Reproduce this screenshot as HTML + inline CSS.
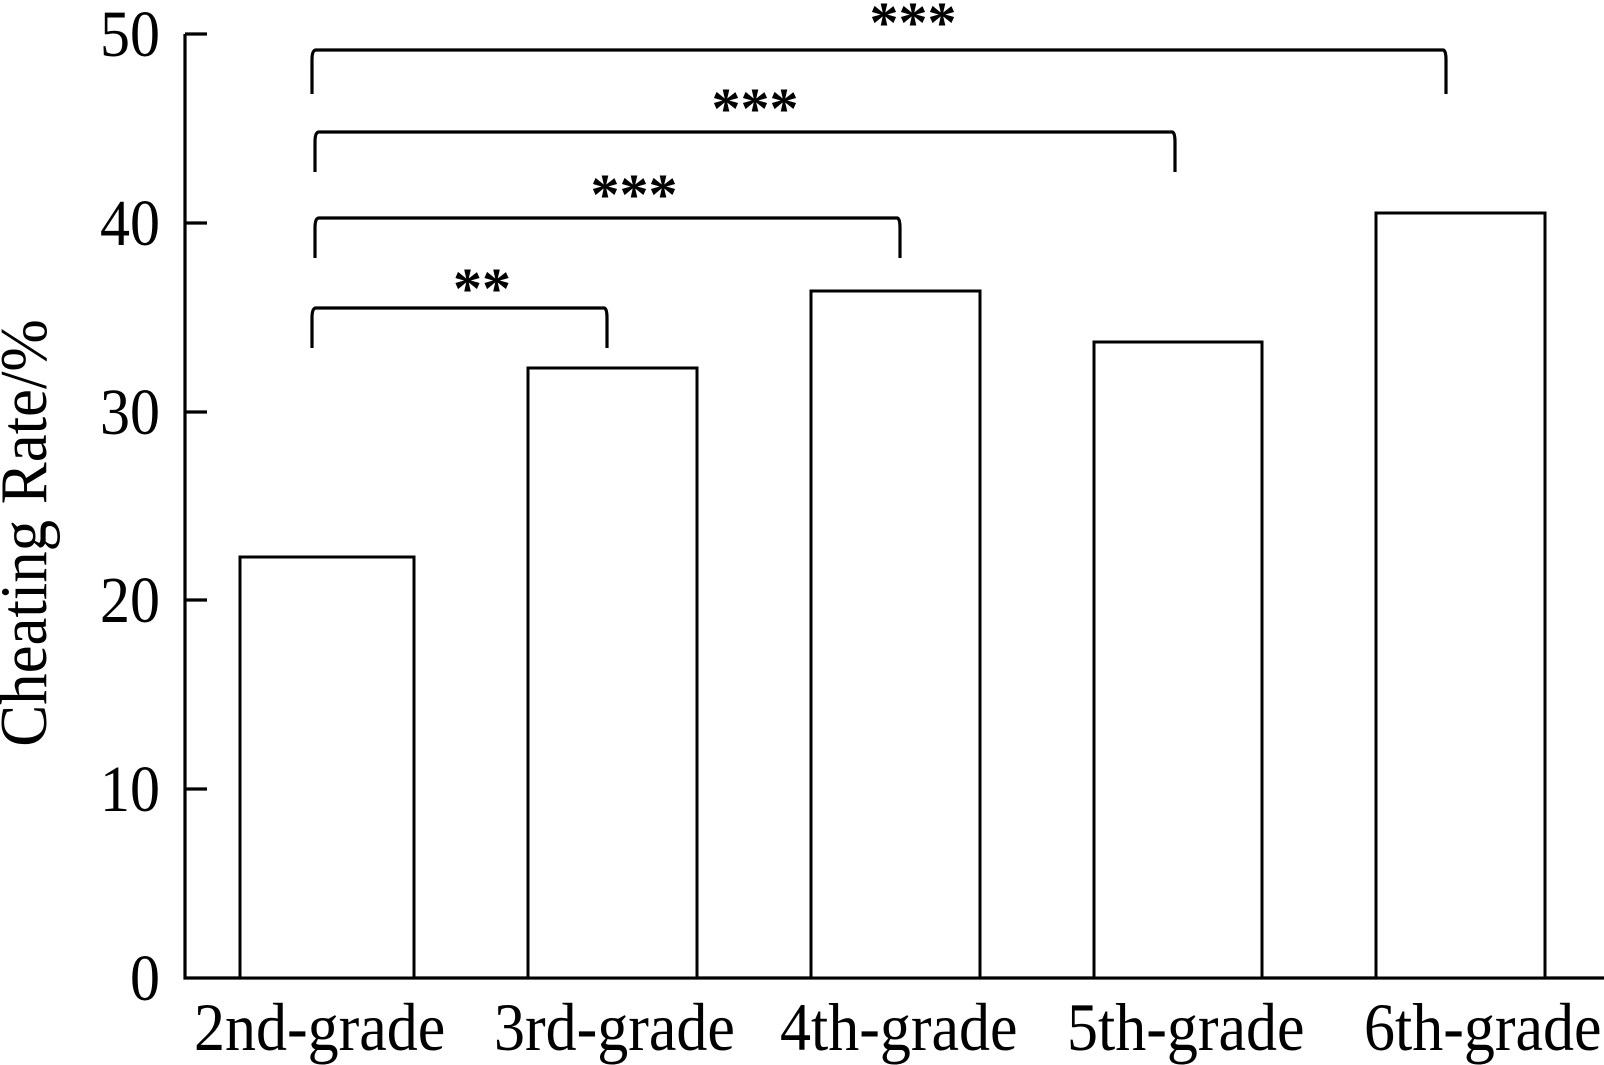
<!DOCTYPE html>
<html><head><meta charset="utf-8"><style>html,body{margin:0;padding:0;background:#fff}svg{display:block}</style></head>
<body>
<svg width="1604" height="1065" viewBox="0 0 1604 1065" xmlns="http://www.w3.org/2000/svg" font-family="Liberation Serif, serif">
<g stroke="#000" fill="none" stroke-width="3.2">
<path d="M185 34 V978 H1604"/>
<path d="M185 34 h22 M185 223 h22 M185 412 h22 M185 600 h22 M185 789 h22"/>
</g>
<g stroke="#000" fill="#fff" stroke-width="3">
<rect x="240" y="557" width="174" height="421"/>
<rect x="528" y="368" width="169" height="610"/>
<rect x="811" y="291" width="169" height="687"/>
<rect x="1094" y="342" width="168" height="636"/>
<rect x="1376" y="213" width="169" height="765"/>
</g>
<g stroke="#000" fill="none" stroke-width="3.2">
<path d="M312 348 V318 Q312 308 316 308 H604 Q607 308 607 318 V348"/>
<path d="M315 258 V228 Q315 218 319 218 H897 Q900 218 900 228 V258"/>
<path d="M315 172 V142 Q315 132 319 132 H1172 Q1175 132 1175 142 V172"/>
<path d="M312 94 V60 Q312 50 316 50 H1443 Q1446 50 1446 60 V94"/>
</g>
<g font-size="58" text-anchor="middle" fill="#000" font-weight="bold">
<text x="482" y="308">**</text>
<text x="634" y="214">***</text>
<text x="755" y="128">***</text>
<text x="913" y="42">***</text>
</g>
<g font-size="60" text-anchor="end" fill="#000">
<text transform="translate(160,56) scale(1,1.1)">50</text>
<text transform="translate(160,245) scale(1,1.1)">40</text>
<text transform="translate(160,434) scale(1,1.1)">30</text>
<text transform="translate(160,622) scale(1,1.1)">20</text>
<text transform="translate(160,811) scale(1,1.1)">10</text>
<text transform="translate(160,1000) scale(1,1.1)">0</text>
</g>
<g font-size="62" fill="#000">
<text transform="translate(194,1050) scale(1,1.1)">2nd-grade</text>
<text transform="translate(494,1050) scale(1,1.1)">3rd-grade</text>
<text transform="translate(780,1050) scale(1,1.1)">4th-grade</text>
<text transform="translate(1067,1050) scale(1,1.1)">5th-grade</text>
<text transform="translate(1364,1050) scale(1,1.1)">6th-grade</text>
</g>
<text x="0" y="0" font-size="61" text-anchor="middle" fill="#000" transform="translate(46,533) rotate(-90) scale(1.03,1.1)">Cheating Rate/%</text>
</svg>
</body></html>
